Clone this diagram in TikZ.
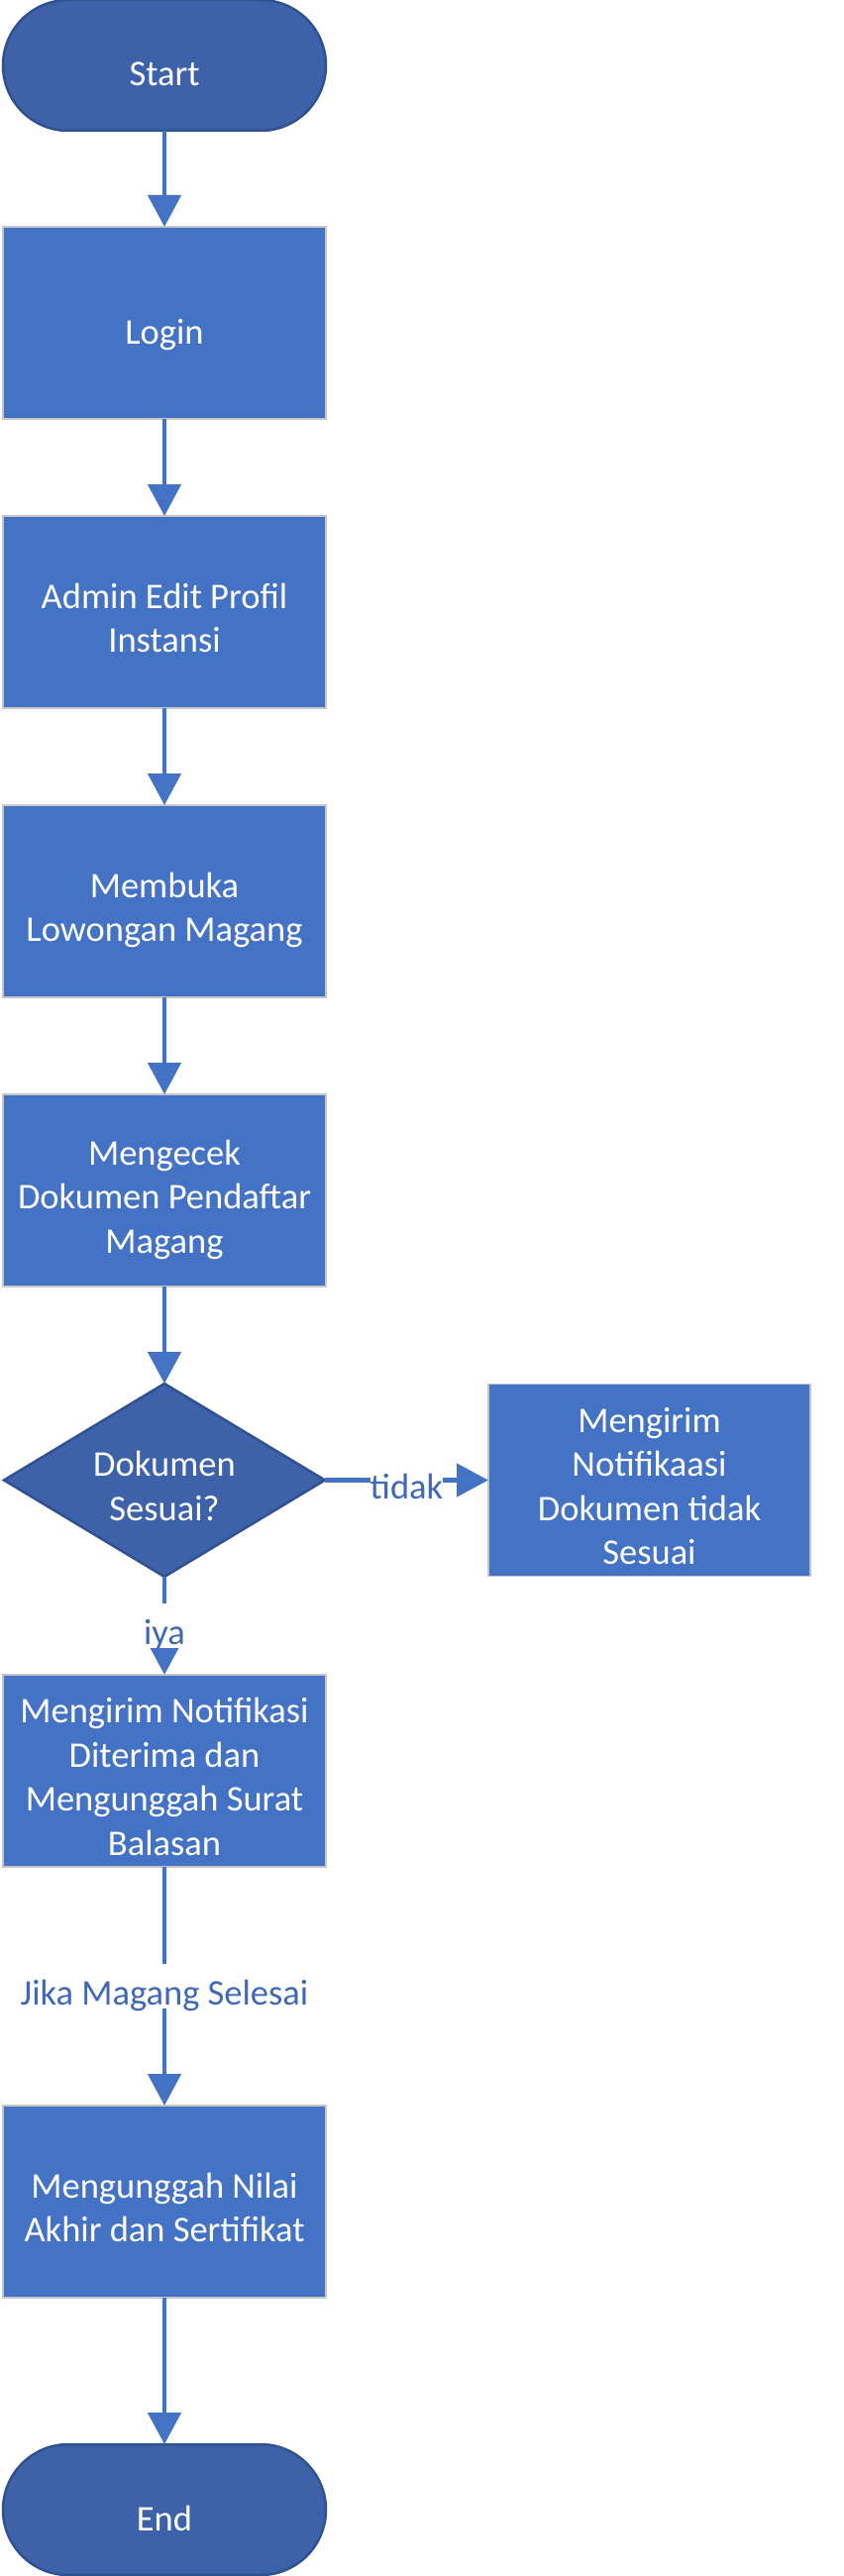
\documentclass[tikz,border=0pt]{standalone}
\usepackage{fontspec}
\setmainfont{Carlito}
\usetikzlibrary{arrows.meta,positioning,shapes.geometric}
\definecolor{biru}{HTML}{4472C4}
\definecolor{birutua}{HTML}{3D62AA}
\definecolor{tepitua}{HTML}{2F528F}
\definecolor{teksbiru}{HTML}{4068B8}
\tikzset{
	every node/.style={
		font=\fontsize{36.5}{44.5}\selectfont
	},
	isi/.style={
		text=white,
		align=center,
		outer sep=0pt,
		text height=47pt,
		text depth=5pt
	},
	baris/.style={
		text height=#1
	},
	proses/.style={
		isi,
		shape=rectangle,
		minimum width=326pt,
		minimum height=194pt,
		inner sep=2pt,
		fill=biru,
		draw=gray!45,
		line width=1.2pt
	},
	terminal/.style={
		isi,
		shape=rectangle,
		minimum width=326pt,
		minimum height=132pt,
		rounded corners=66pt,
		fill=birutua,
		draw=tepitua,
		line width=2.5pt
	},
	keputusan/.style={
		isi,
		shape=diamond,
		aspect=1.66,
		minimum width=324pt,
		minimum height=195pt,
		inner sep=0pt,
		fill=birutua,
		draw=tepitua,
		line width=2.5pt
	},
	panah/.style={
		-{Triangle[width=33pt,length=32pt]},
		draw=biru,
		line width=4.7pt
	},
	ket/.style={
		fill=white,
		inner sep=0pt,
		text=teksbiru,
		text height=41.5pt,
		text depth=3.5pt
	}
}
\begin{document}
\begin{tikzpicture}[x=1pt,y=-1pt,node distance=98pt]
	\useasboundingbox (0,0) rectangle (851,2601);
	
	\node[terminal] (start) at (166,66) {Start};
	\node[proses,below=97pt of start] (login) {Login};
	\node[proses,baris=86.5pt,below=of login] (admin) {Admin Edit Profil\\Instansi};
	\node[proses,baris=86.5pt,below=of admin] (lowongan) {Membuka\\Lowongan Magang};
	\node[proses,baris=131pt,below=of lowongan] (cek) {Mengecek\\Dokumen Pendaftar\\Magang};
	\node[keputusan,baris=86.5pt,below=of cek] (sesuai) {Dokumen\\Sesuai?};
	\node[proses,baris=175.5pt,right=165pt of sesuai,minimum width=325pt] (tolak) {Mengirim\\Notifikaasi\\Dokumen tidak\\Sesuai};
	\node[proses,baris=175.5pt,below=99pt of sesuai] (terima) {Mengirim Notifikasi\\Diterima dan\\Mengunggah Surat\\Balasan};
	\node[proses,baris=86.5pt,below=241pt of terima] (nilai) {Mengunggah Nilai\\Akhir dan Sertifikat};
	\node[terminal,below=148pt of nilai] (end) {End};
	
	\foreach \dari/\ke in {start/login,login/admin,admin/lowongan,lowongan/cek,cek/sesuai,nilai/end}
	\draw[panah] (\dari) -- (\ke);
	
	\draw[panah] (sesuai) -- node[ket] {tidak} (tolak);
	\draw[panah] (sesuai) -- node[ket] {iya} (terima);
	\draw[panah] (terima) -- node[ket] {Jika Magang Selesai} (nilai);
\end{tikzpicture}
\end{document}
